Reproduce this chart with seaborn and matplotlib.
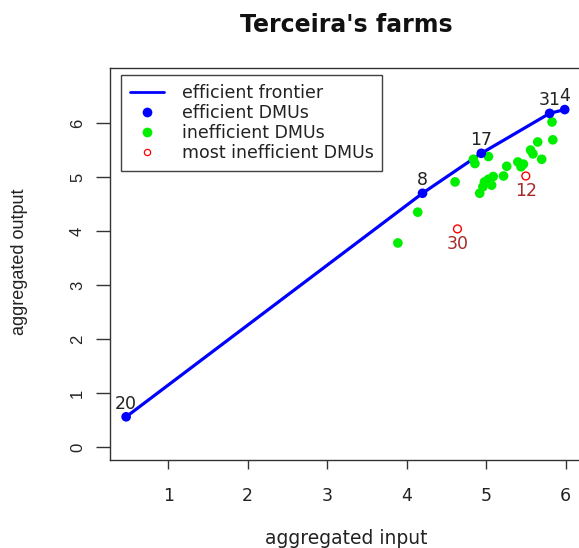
import matplotlib
matplotlib.use("Agg")
import matplotlib.pyplot as plt
from matplotlib.lines import Line2D
import seaborn as sns
import pandas as pd

# ---- data ----
eff_x = [0.47, 4.20, 4.94, 5.80, 5.99]
eff_y = [0.56, 4.70, 5.44, 6.18, 6.25]
eff_labels = ["20", "8", "17", "31", "4"]

ineff_x = [5.83, 5.84, 5.65, 5.56, 5.59, 5.70, 5.40, 5.47, 5.44, 5.26, 5.22, 5.09,
           5.03, 4.98, 5.07, 4.96, 4.92, 5.03, 4.86, 4.84, 4.61, 4.14, 3.89]
ineff_y = [6.02, 5.69, 5.65, 5.50, 5.43, 5.33, 5.28, 5.24, 5.19, 5.20, 5.02, 5.01,
           4.96, 4.91, 4.85, 4.82, 4.70, 5.38, 5.25, 5.33, 4.91, 4.35, 3.78]

worst_x = [5.50, 4.64]
worst_y = [5.02, 4.04]
worst_labels = ["12", "30"]

x_ticks = [1, 2, 3, 4, 5, 6]
y_ticks = [0, 1, 2, 3, 4, 5, 6]

title = "Terceira's farms"
xlabel = "aggregated input"
ylabel = "aggregated output"
legend_labels = ["efficient frontier", "efficient DMUs", "inefficient DMUs", "most inefficient DMUs"]

# ---- plot ----
sns.set_style("white")
plt.rcParams["font.family"] = ["DejaVu Sans"]
NARROW = ["Liberation Sans", "DejaVu Sans"]

W, H = 579, 548
fig = plt.figure(figsize=(W / 100, H / 100), dpi=100)
ax = fig.add_axes([110 / W, 1 - 460 / H, 473 / W, 392 / H])

eff = pd.DataFrame({"x": eff_x, "y": eff_y})
ineff = pd.DataFrame({"x": ineff_x, "y": ineff_y})
worst = pd.DataFrame({"x": worst_x, "y": worst_y})

sns.lineplot(data=eff, x="x", y="y", sort=False, estimator=None, color="#0000ff",
             linewidth=2.3, ax=ax, legend=False)
sns.scatterplot(data=ineff, x="x", y="y", color="#00ee00", s=48, edgecolor="none",
                ax=ax, legend=False, zorder=3)
sns.scatterplot(data=eff, x="x", y="y", color="#0000ff", s=48, edgecolor="none",
                ax=ax, legend=False, zorder=4)
sns.scatterplot(data=worst, x="x", y="y", facecolor="none", edgecolor="#ff0000",
                s=32, linewidth=1.0, ax=ax, legend=False, zorder=4)

for xv, yv, lab in zip(eff_x, eff_y, eff_labels):
    ax.annotate(lab, (xv, yv), xytext=(0, 3), textcoords="offset points",
                ha="center", va="bottom", fontsize=12.5, color="#222222")
for xv, yv, lab in zip(worst_x, worst_y, worst_labels):
    ax.annotate(lab, (xv, yv), xytext=(0, -4.5), textcoords="offset points",
                ha="center", va="top", fontsize=12.5, color="#a52a2a")

ax.set_xlim(0.267, 6.22)
ax.set_ylim(-0.24, 7.02)
ax.set_xticks(x_ticks)
ax.set_yticks(y_ticks)
ax.set_xlabel("")
ax.set_ylabel("")
ax.tick_params(axis="x", direction="out", length=6.5, width=1, color="#333333",
               labelsize=12.5, labelcolor="#222222", pad=13, bottom=True)
ax.tick_params(axis="y", direction="out", length=10, width=1, color="#333333",
               labelsize=12, labelcolor="#222222", pad=8, left=True, labelrotation=90)
for lbl in ax.get_yticklabels():
    lbl.set_va("center")
    lbl.set_family(NARROW)
for sp in ax.spines.values():
    sp.set_color("#333333")
    sp.set_linewidth(1.0)

handles = [
    Line2D([], [], color="#0000ff", lw=2.0),
    Line2D([], [], color="#0000ff", marker="o", ls="none", markersize=7, markeredgewidth=0),
    Line2D([], [], color="#00ee00", marker="o", ls="none", markersize=7, markeredgewidth=0),
    Line2D([], [], color="#ff0000", marker="o", ls="none", markersize=4.5,
           markerfacecolor="none", markeredgewidth=0.9),
]
leg = ax.legend(handles, legend_labels, loc="upper left", bbox_to_anchor=(11 / 473, 1 - 7 / 392),
                borderaxespad=0, fontsize=12.5, frameon=True, fancybox=False,
                edgecolor="#111111", handlelength=2.0, handletextpad=1.0,
                labelspacing=0.12, borderpad=0.5)
leg.get_frame().set_linewidth(1.0)
for t in leg.get_texts():
    t.set_color("#222222")

fig.text(346 / W, 1 - 32 / H, title, ha="center", va="baseline", fontsize=17,
         fontweight="bold", color="#111111")
fig.text(346 / W, 1 - 538 / H, xlabel, ha="center", va="center", fontsize=13.5, color="#222222")
fig.text(20 / W, 1 - 262 / H, ylabel, ha="center", va="center", rotation=90,
         fontsize=13, color="#222222", family=NARROW)

fig.savefig("out.png", dpi=100)
